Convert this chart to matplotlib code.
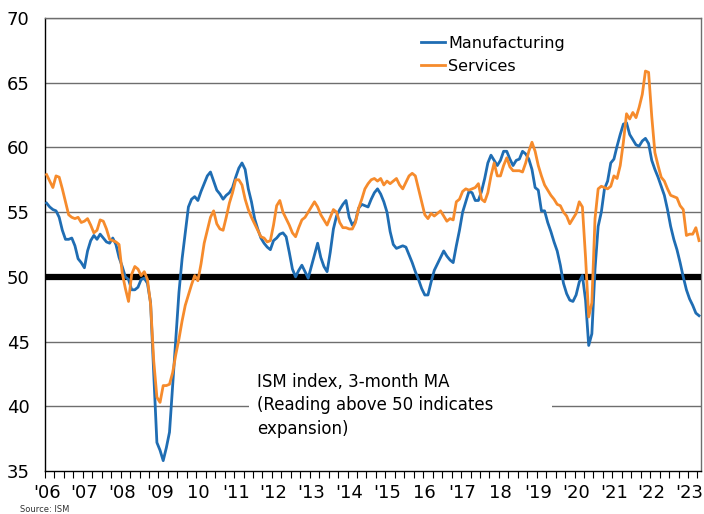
import matplotlib
matplotlib.use("Agg")
import matplotlib.pyplot as plt
from matplotlib.patches import Rectangle
import numpy as np

# ISM index, 3-month moving average, monthly from Jan 2006
manufacturing = [
    55.7, 55.4, 55.2, 55.1, 54.6, 53.6, 52.9, 52.9, 53.0, 52.4, 51.4, 51.1,  # 2006
    50.7, 52.0, 52.8, 53.2, 52.9, 53.3, 53.0, 52.7, 52.6, 53.0, 52.5, 51.5,  # 2007
    50.8, 50.0, 49.8, 49.0, 49.0, 49.2, 49.8, 49.9, 49.5, 48.0, 42.5, 37.2,  # 2008
    36.6, 35.8, 36.8, 38.0, 41.6, 45.2, 48.8, 51.4, 53.4, 55.4, 56.0, 56.2,  # 2009
    55.9, 56.6, 57.2, 57.8, 58.1, 57.4, 56.7, 56.4, 56.0, 56.3, 56.5, 56.9,  # 2010
    57.7, 58.4, 58.8, 58.3, 56.8, 55.8, 54.5, 53.7, 53.0, 52.6, 52.3, 52.1,  # 2011
    52.8, 53.0, 53.3, 53.4, 53.1, 51.9, 50.6, 50.0, 50.5, 50.9, 50.4, 49.9,  # 2012
    50.8, 51.7, 52.6, 51.5, 50.8, 50.4, 51.9, 53.7, 54.7, 55.2, 55.6, 55.9,  # 2013
    54.6, 54.0, 54.3, 55.3, 55.6, 55.5, 55.4, 56.0, 56.5, 56.8, 56.4, 55.8,  # 2014
    55.0, 53.5, 52.5, 52.2, 52.3, 52.4, 52.3, 51.7, 51.1, 50.4, 49.8, 49.1,  # 2015
    48.6, 48.6, 49.6, 50.5, 51.0, 51.5, 52.0, 51.6, 51.3, 51.1, 52.4, 53.6,  # 2016
    55.0, 55.8, 56.6, 56.5, 55.9, 55.9, 56.6, 57.6, 58.8, 59.4, 59.0, 58.6,  # 2017
    59.0, 59.7, 59.7, 59.1, 58.6, 59.0, 59.1, 59.7, 59.5, 59.1, 58.3, 56.9,  # 2018
    56.7, 55.1, 55.1, 54.2, 53.5, 52.7, 52.0, 50.9, 49.5, 48.7, 48.2, 48.1,  # 2019
    48.6, 49.6, 50.1, 48.2, 44.7, 45.6, 50.6, 53.9, 55.0, 56.8, 57.4, 58.8,  # 2020
    59.1, 60.1, 61.0, 61.8, 61.9, 61.0, 60.6, 60.2, 60.1, 60.5, 60.7, 60.3,  # 2021
    59.0, 58.3, 57.7, 57.0, 56.3, 55.2, 53.9, 52.9, 52.1, 51.1, 50.0, 49.0,  # 2022
    48.3, 47.8, 47.2, 47.0,                                                  # 2023
]
services = [
    57.9, 57.4, 56.9, 57.8, 57.7, 56.8, 55.8, 54.8, 54.6, 54.5, 54.6, 54.2,  # 2006
    54.3, 54.5, 54.0, 53.4, 53.6, 54.4, 54.3, 53.7, 52.9, 52.8, 52.7, 52.5,  # 2007
    50.3, 49.1, 48.1, 50.2, 50.8, 50.6, 50.1, 50.4, 49.8, 47.9, 43.5, 40.7,  # 2008
    40.3, 41.6, 41.6, 41.7, 42.6, 44.0, 45.2, 46.6, 47.8, 48.6, 49.4, 50.1,  # 2009
    49.7, 51.0, 52.6, 53.6, 54.6, 55.1, 54.1, 53.7, 53.6, 54.6, 55.7, 56.5,  # 2010
    57.5, 57.5, 57.1, 56.0, 55.2, 54.6, 54.1, 53.6, 53.1, 53.0, 52.7, 52.8,  # 2011
    54.0, 55.5, 55.9, 55.0, 54.5, 54.0, 53.4, 53.1, 53.8, 54.4, 54.6, 55.0,  # 2012
    55.4, 55.8, 55.4, 54.8, 54.4, 54.0, 54.6, 55.2, 55.0, 54.2, 53.8, 53.8,  # 2013
    53.7, 53.7, 54.2, 55.3, 56.0, 56.8, 57.2, 57.5, 57.6, 57.4, 57.6, 57.1,  # 2014
    57.4, 57.2, 57.4, 57.6, 57.1, 56.8, 57.3, 57.8, 58.0, 57.8, 56.8, 55.8,  # 2015
    54.8, 54.5, 54.9, 54.7, 54.9, 55.1, 54.7, 54.3, 54.5, 54.4, 55.8, 56.0,  # 2016
    56.6, 56.8, 56.7, 56.8, 56.9, 57.2, 56.0, 55.8, 56.5, 57.8, 58.8, 57.8,  # 2017
    57.8, 58.6, 59.2, 58.5, 58.2, 58.2, 58.2, 58.1, 58.8, 59.7, 60.4, 59.7,  # 2018
    58.6, 57.8, 57.1, 56.7, 56.3, 56.0, 55.6, 55.5, 55.0, 54.7, 54.1, 54.5,  # 2019
    54.9, 55.8, 55.4, 51.5, 46.9, 48.0, 54.5, 56.8, 57.0, 56.9, 56.8, 57.0,  # 2020
    57.8, 57.6, 58.6, 60.4, 62.6, 62.2, 62.7, 62.3, 63.1, 64.1, 65.9, 65.8,  # 2021
    62.4, 59.6, 58.6, 57.7, 57.4, 56.8, 56.3, 56.2, 56.1, 55.5, 55.2, 53.2,  # 2022
    53.3, 53.3, 53.8, 52.8,                                                  # 2023
]
year_labels = ["'06", "'07", "'08", "'09", "10", "'11", "'12", "'13", "'14",
               "'15", "16", "'17", "18", "'19", "'20", "'21", "'22", "'23"]
y_ticks = [35, 40, 45, 50, 55, 60, 65, 70]

months = np.arange(len(manufacturing))

fig = plt.figure(figsize=(7.04, 5.14), dpi=100)
ax = fig.add_axes([45 / 704, 1 - 471 / 514, 655.6 / 704, 453 / 514])

# horizontal grid, thick line at 50
for y in y_ticks[1:]:
    if y == 50:
        ax.axhline(y, color="black", lw=4.5, zorder=3)
    else:
        ax.axhline(y, color="#6e6e6e", lw=1.0, zorder=1)

# white box behind the note
ax.add_patch(Rectangle((0.311, 0.06), 0.462, 0.18, transform=ax.transAxes,
                       facecolor="white", edgecolor="none", zorder=2))

ax.plot(months, manufacturing, color="#1f6db3", lw=2, label="Manufacturing", zorder=4)
ax.plot(months, services, color="#f68b2c", lw=2, label="Services", zorder=4)

ax.set_xlim(-0.5, 207.5)
ax.set_ylim(35, 70)

ax.set_yticks(y_ticks)
ax.tick_params(axis="y", length=0, pad=11, labelsize=13)

ax.set_xticks(np.arange(len(year_labels)) * 12)
ax.set_xticklabels(year_labels)
ax.set_xticks(np.arange(-0.5, 208, 3), minor=True)
ax.tick_params(axis="x", which="major", length=0, pad=9, labelsize=13)
ax.tick_params(axis="x", which="minor", length=5, width=0.8, direction="out")

for side in ["left", "bottom"]:
    ax.spines[side].set_color("black")
    ax.spines[side].set_linewidth(1.0)
for side in ["top", "right"]:
    ax.spines[side].set_color("#6e6e6e")
    ax.spines[side].set_linewidth(1.0)

leg = ax.legend(loc="upper left", bbox_to_anchor=(421 / 704, 1 - 36 / 514),
                bbox_transform=fig.transFigure, frameon=False, fontsize=11.5,
                handlelength=1.5, handletextpad=0.2, labelspacing=0.5,
                borderpad=0, borderaxespad=0)

ax.text(0.323, 0.216, "ISM index, 3-month MA\n(Reading above 50 indicates\nexpansion)",
        transform=ax.transAxes, ha="left", va="top", fontsize=12,
        linespacing=1.38, zorder=5)

fig.text(20 / 704, 1 - 510 / 514, "Source: ISM", fontsize=6, color="#333333",
         ha="left", va="center")

fig.savefig("out.png", dpi=100)
